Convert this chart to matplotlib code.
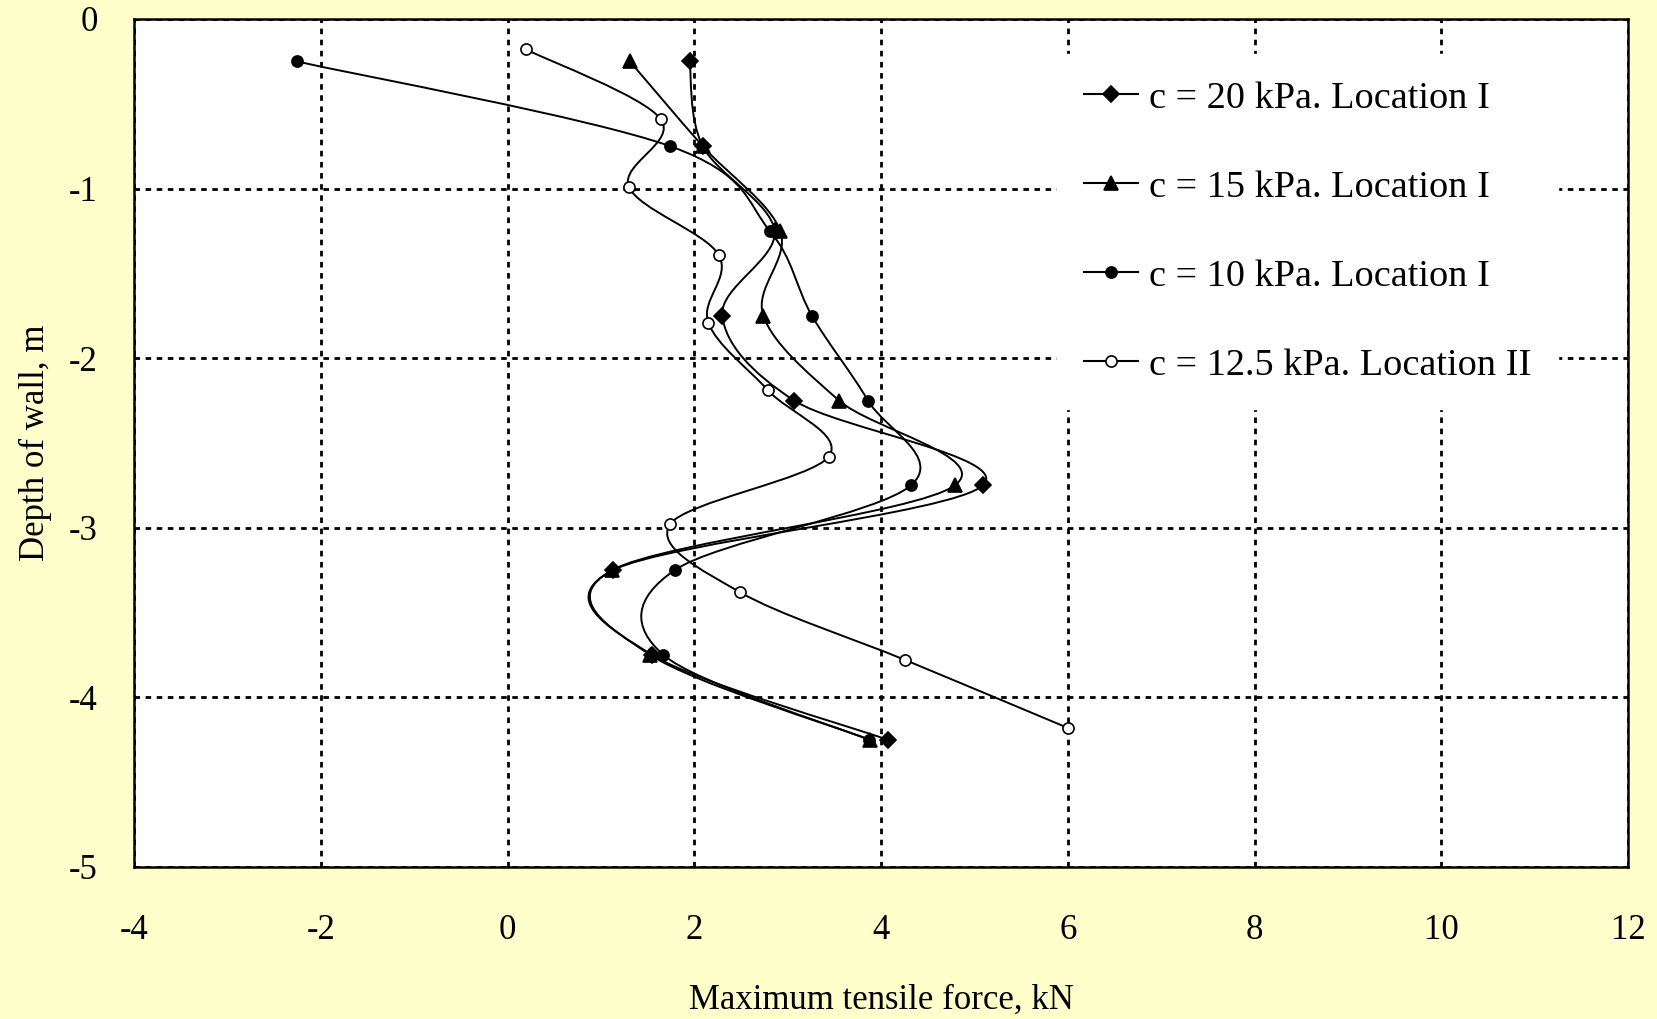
import numpy as np
import matplotlib
matplotlib.use("Agg")
import matplotlib.pyplot as plt
from matplotlib.path import Path
from matplotlib.patches import PathPatch
from matplotlib.lines import Line2D

# depth of wall (m) and maximum tensile force (kN) per series
depth_loc1 = [-0.25, -0.75, -1.25, -1.75, -2.25, -2.75, -3.25, -3.75, -4.25]
force_c20 = [1.95, 2.09, 2.86, 2.30, 3.07, 5.09, 1.13, 1.55, 4.07]
force_c15 = [1.31, 2.09, 2.92, 2.74, 3.55, 4.79, 1.12, 1.53, 3.88]
force_c10 = [-2.26, 1.74, 2.81, 3.26, 3.86, 4.32, 1.79, 1.67, 3.87]

depth_loc2 = [-0.18, -0.59, -0.99, -1.39, -1.79, -2.19, -2.58, -2.98, -3.38, -3.78, -4.18]
force_c125 = [0.20, 1.64, 1.30, 2.26, 2.15, 2.79, 3.44, 1.74, 2.49, 4.26, 6.00]

labels = ["c = 20 kPa. Location I", "c = 15 kPa. Location I",
          "c = 10 kPa. Location I", "c = 12.5 kPa. Location II"]

plt.rcParams['font.family'] = ['Liberation Serif', 'DejaVu Serif']
plt.rcParams['axes.unicode_minus'] = False

BG = '#FFFFCC'


def smooth_path(xs, ys):
    # Excel-style smoothed line: cubic Bezier segments through every point
    p = np.column_stack([xs, ys])
    n = len(p)
    verts = [p[0]]
    codes = [Path.MOVETO]
    for i in range(n - 1):
        p0 = p[i - 1] if i > 0 else p[i]
        p3 = p[i + 2] if i + 2 < n else p[i + 1]
        c1 = p[i] + (p[i + 1] - p0) / 6.0
        c2 = p[i + 1] - (p3 - p[i]) / 6.0
        verts += [c1, c2, p[i + 1]]
        codes += [Path.CURVE4] * 3
    return Path(verts, codes)


fig = plt.figure(figsize=(16.57, 10.19), dpi=100, facecolor=BG)
ax = fig.add_axes([0.0809, 0.1492, 0.9016, 0.8322])
ax.set_facecolor('white')

series = [
    (force_c20, depth_loc1, 'D', 'black', 8),
    (force_c15, depth_loc1, '^', 'black', 10),
    (force_c10, depth_loc1, 'o', 'black', 8),
    (force_c125, depth_loc2, 'o', 'white', 8),
]

handles = []
for (xs, ys, mk, fc, ms), lab in zip(series, labels):
    ax.add_patch(PathPatch(smooth_path(xs, ys), facecolor='none',
                           edgecolor='black', lw=1.4, zorder=3))
    ax.plot(xs, ys, linestyle='none', marker=mk, markersize=ms,
            markerfacecolor=fc, markeredgecolor='black', markeredgewidth=1.2,
            zorder=4)
    handles.append(Line2D([], [], color='black', lw=1.5, marker=mk,
                          markersize=ms, markerfacecolor=fc,
                          markeredgecolor='black', markeredgewidth=1.2))

ax.set_xlim(-4, 12)
ax.set_ylim(-5, 0)
ax.set_xticks(np.arange(-4, 13, 2))
ax.set_yticks(np.arange(-5, 1, 1))
ax.grid(True, color='black', linestyle=(0, (2, 2)), linewidth=2)
ax.set_axisbelow(True)
ax.tick_params(length=0, labelsize=25)
ax.tick_params(axis='x', pad=34)
ax.tick_params(axis='y', pad=26)
for s in ax.spines.values():
    s.set_color('black')
    s.set_linewidth(1.8)

ax.set_xlabel('Maximum tensile force, kN', fontsize=25, labelpad=26)
ax.set_ylabel('Depth of wall, m', fontsize=25)
ax.yaxis.set_label_coords(-0.055, 0.5)

leg = ax.legend(handles, labels, loc='upper right',
                bbox_to_anchor=(0.966, 0.981), fontsize=27.5, frameon=True,
                fancybox=False, edgecolor='white', facecolor='white',
                framealpha=1, handlelength=1.4, handletextpad=0.3,
                labelspacing=1.42, borderpad=0.7)
leg.set_zorder(5)

fig.savefig('out.png', dpi=100, facecolor=BG)
